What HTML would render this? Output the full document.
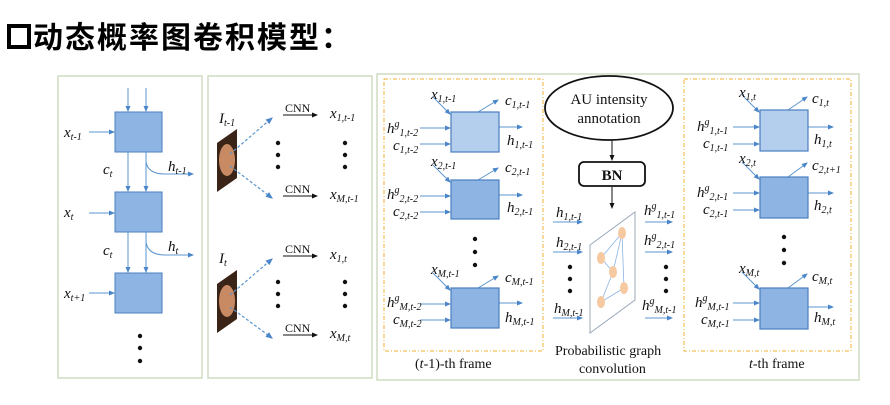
<!DOCTYPE html>
<html><head><meta charset="utf-8"><style>
body{margin:0;background:#fff;width:890px;height:400px;overflow:hidden}
svg text{font-family:"Liberation Serif",serif;fill:#111}
.i{font-style:italic}
</style></head><body>
<svg width="890" height="400" viewBox="0 0 890 400" xmlns="http://www.w3.org/2000/svg">
<defs>
<marker id="a" markerWidth="6" markerHeight="6" refX="5" refY="3" orient="auto"><path d="M0,0.5 L6,3 L0,5.5Z" fill="#4a86c8"/></marker>
<marker id="k" markerWidth="6" markerHeight="6" refX="5" refY="3" orient="auto"><path d="M0,0.5 L6,3 L0,5.5Z" fill="#111"/></marker>
</defs>
<rect x="9" y="26" width="20" height="21" fill="none" stroke="#000" stroke-width="4"/>
<text x="33" y="48" style="font-family:'Noto Sans CJK SC','WenQuanYi Zen Hei',sans-serif;font-weight:bold;font-size:30px;letter-spacing:2px;fill:#000">动态概率图卷积模型：</text>

<!-- panels -->
<rect x="58" y="76" width="144" height="302" fill="none" stroke="#cfdcc0" stroke-width="1.5"/>
<rect x="208" y="76" width="164" height="302" fill="none" stroke="#cfdcc0" stroke-width="1.5"/>
<rect x="377" y="74" width="482" height="306" fill="none" stroke="#cfdcc0" stroke-width="1.5"/>
<rect x="384" y="79" width="159" height="272" fill="none" stroke="#f0b030" stroke-width="1" stroke-dasharray="4,2,1,2"/>
<rect x="684" y="79" width="167" height="272" fill="none" stroke="#f0b030" stroke-width="1" stroke-dasharray="4,2,1,2"/>

<!-- panel1 -->
<g stroke="#5b95d0" stroke-width="1" fill="none">
<line x1="128" y1="88" x2="128" y2="111" marker-end="url(#a)"/>
<line x1="146" y1="88" x2="146" y2="111" marker-end="url(#a)"/>
<line x1="128" y1="152" x2="128" y2="191" marker-end="url(#a)"/>
<line x1="146" y1="152" x2="146" y2="191" marker-end="url(#a)"/>
<line x1="128" y1="232" x2="128" y2="272" marker-end="url(#a)"/>
<line x1="146" y1="232" x2="146" y2="272" marker-end="url(#a)"/>
<line x1="89" y1="132" x2="114" y2="132" marker-end="url(#a)"/>
<line x1="89" y1="213" x2="114" y2="213" marker-end="url(#a)"/>
<line x1="89" y1="293" x2="114" y2="293" marker-end="url(#a)"/>
<path d="M146,162 Q148,174 165,174 L193,174" marker-end="url(#a)"/>
<path d="M146,242 Q148,255 165,255 L193,255" marker-end="url(#a)"/>
</g>
<g fill="#8db4e2" stroke="#4a7fc0">
<rect x="115" y="112" width="47" height="40"/>
<rect x="115" y="192" width="47" height="40"/>
<rect x="115" y="273" width="47" height="40"/>
</g>
<g font-size="15" class="i">
<text x="64" y="137" class="i">x<tspan font-size="10" dy="3">t-1</tspan></text>
<text x="64" y="217" class="i">x<tspan font-size="10" dy="3">t</tspan></text>
<text x="64" y="298" class="i">x<tspan font-size="10" dy="3">t+1</tspan></text>
<text x="103" y="174" class="i">c<tspan font-size="10" dy="3">t</tspan></text>
<text x="103" y="255" class="i">c<tspan font-size="10" dy="3">t</tspan></text>
<text x="168" y="171" class="i">h<tspan font-size="10" dy="3">t-1</tspan></text>
<text x="168" y="251" class="i">h<tspan font-size="10" dy="3">t</tspan></text>
</g>
<g fill="#111"><circle cx="140" cy="336" r="2.2"/><circle cx="140" cy="348" r="2.2"/><circle cx="140" cy="361" r="2.2"/></g>

<!-- panel2 -->
<polygon points="217,143 237,129 237,178 217,192" fill="#3a2418"/>
<ellipse cx="227" cy="160" rx="8" ry="16" fill="#c88a62"/>
<polygon points="217,284 237,270 237,319 217,333" fill="#3a2418"/>
<ellipse cx="227" cy="301" rx="8" ry="16" fill="#c88a62"/>
<g stroke="#5b95d0" stroke-width="1.2" stroke-dasharray="3,2" fill="none">
<line x1="230" y1="154" x2="272" y2="118" marker-end="url(#a)"/>
<line x1="230" y1="166" x2="272" y2="198" marker-end="url(#a)"/>
<line x1="230" y1="295" x2="272" y2="259" marker-end="url(#a)"/>
<line x1="230" y1="307" x2="272" y2="338" marker-end="url(#a)"/>
</g>
<g stroke="#111" stroke-width="1">
<line x1="283" y1="115" x2="317" y2="115" marker-end="url(#k)"/>
<line x1="283" y1="196" x2="317" y2="196" marker-end="url(#k)"/>
<line x1="283" y1="256" x2="317" y2="256" marker-end="url(#k)"/>
<line x1="283" y1="335" x2="317" y2="335" marker-end="url(#k)"/>
</g>
<g font-size="12"><text x="285" y="112">CNN</text><text x="285" y="193">CNN</text><text x="285" y="253">CNN</text><text x="285" y="332">CNN</text></g>
<g font-size="15">
<text x="219" y="123" class="i">I<tspan font-size="10" dy="3">t-1</tspan></text>
<text x="219" y="263" class="i">I<tspan font-size="10" dy="3">t</tspan></text>
<text x="330" y="118" class="i">x<tspan font-size="10" dy="3">1,t-1</tspan></text>
<text x="330" y="199" class="i">x<tspan font-size="10" dy="3">M,t-1</tspan></text>
<text x="330" y="259" class="i">x<tspan font-size="10" dy="3">1,t</tspan></text>
<text x="330" y="338" class="i">x<tspan font-size="10" dy="3">M,t</tspan></text>
</g>
<g fill="#111">
<circle cx="278" cy="143" r="2.2"/><circle cx="278" cy="155" r="2.2"/><circle cx="278" cy="167" r="2.2"/>
<circle cx="345" cy="143" r="2.2"/><circle cx="345" cy="155" r="2.2"/><circle cx="345" cy="167" r="2.2"/>
<circle cx="278" cy="282" r="2.2"/><circle cx="278" cy="294" r="2.2"/><circle cx="278" cy="306" r="2.2"/>
<circle cx="345" cy="282" r="2.2"/><circle cx="345" cy="294" r="2.2"/><circle cx="345" cy="306" r="2.2"/>
</g>

<!-- cells -->
<g stroke="#5b95d0" stroke-width="1" fill="none">
<line x1="433" y1="97" x2="450" y2="114" marker-end="url(#a)"/><line x1="420" y1="128" x2="450" y2="128" marker-end="url(#a)"/><line x1="420" y1="144" x2="450" y2="144" marker-end="url(#a)"/><line x1="478" y1="112" x2="498" y2="100" marker-end="url(#a)"/><line x1="499" y1="127" x2="522" y2="127" marker-end="url(#a)"/>
<line x1="433" y1="165" x2="450" y2="182" marker-end="url(#a)"/><line x1="420" y1="196" x2="450" y2="196" marker-end="url(#a)"/><line x1="420" y1="212" x2="450" y2="212" marker-end="url(#a)"/><line x1="478" y1="180" x2="498" y2="168" marker-end="url(#a)"/><line x1="499" y1="195" x2="522" y2="195" marker-end="url(#a)"/>
<line x1="433" y1="273" x2="450" y2="290" marker-end="url(#a)"/><line x1="420" y1="304" x2="450" y2="304" marker-end="url(#a)"/><line x1="420" y1="320" x2="450" y2="320" marker-end="url(#a)"/><line x1="478" y1="288" x2="498" y2="276" marker-end="url(#a)"/><line x1="499" y1="303" x2="522" y2="303" marker-end="url(#a)"/>
<line x1="742" y1="95" x2="759" y2="112" marker-end="url(#a)"/><line x1="733" y1="127" x2="759" y2="127" marker-end="url(#a)"/><line x1="733" y1="144" x2="759" y2="144" marker-end="url(#a)"/><line x1="788" y1="110" x2="807" y2="97" marker-end="url(#a)"/><line x1="808" y1="127" x2="833" y2="127" marker-end="url(#a)"/>
<line x1="742" y1="162" x2="759" y2="179" marker-end="url(#a)"/><line x1="733" y1="193" x2="759" y2="193" marker-end="url(#a)"/><line x1="733" y1="210" x2="759" y2="210" marker-end="url(#a)"/><line x1="788" y1="177" x2="807" y2="163" marker-end="url(#a)"/><line x1="808" y1="193" x2="833" y2="193" marker-end="url(#a)"/>
<line x1="742" y1="272" x2="759" y2="289" marker-end="url(#a)"/><line x1="733" y1="303" x2="759" y2="303" marker-end="url(#a)"/><line x1="733" y1="320" x2="759" y2="320" marker-end="url(#a)"/><line x1="788" y1="288" x2="807" y2="274" marker-end="url(#a)"/><line x1="808" y1="307" x2="833" y2="307" marker-end="url(#a)"/>
<line x1="553" y1="222" x2="582" y2="222" marker-end="url(#a)"/><line x1="553" y1="252" x2="582" y2="252" marker-end="url(#a)"/><line x1="553" y1="318" x2="582" y2="318" marker-end="url(#a)"/>
<line x1="645" y1="222" x2="672" y2="222" marker-end="url(#a)"/><line x1="645" y1="252" x2="672" y2="252" marker-end="url(#a)"/><line x1="645" y1="318" x2="672" y2="318" marker-end="url(#a)"/>
</g>
<g stroke="#4a7fc0" stroke-width="1.2">
<rect x="451" y="112" width="48" height="40" fill="#b4cfee"/>
<rect x="451" y="180" width="48" height="39" fill="#8db4e2"/>
<rect x="451" y="288" width="48" height="40" fill="#8db4e2"/>
<rect x="760" y="110" width="48" height="41" fill="#b4cfee"/>
<rect x="760" y="177" width="48" height="41" fill="#8db4e2"/>
<rect x="760" y="288" width="48" height="41" fill="#8db4e2"/>
</g>
<g font-size="15" class="i">
<text x="431" y="99" class="i">x<tspan font-size="10" dy="3">1,t-1</tspan></text>
<text x="387" y="133" class="i">h<tspan font-size="10" dy="-6">g</tspan><tspan font-size="10" dy="9">1,t-2</tspan></text>
<text x="393" y="150" class="i">c<tspan font-size="10" dy="3">1,t-2</tspan></text>
<text x="505" y="105" class="i">c<tspan font-size="10" dy="3">1,t-1</tspan></text>
<text x="507" y="145" class="i">h<tspan font-size="10" dy="3">1,t-1</tspan></text>
<text x="431" y="166" class="i">x<tspan font-size="10" dy="3">2,t-1</tspan></text>
<text x="387" y="199" class="i">h<tspan font-size="10" dy="-6">g</tspan><tspan font-size="10" dy="9">2,t-2</tspan></text>
<text x="393" y="216" class="i">c<tspan font-size="10" dy="3">2,t-2</tspan></text>
<text x="505" y="172" class="i">c<tspan font-size="10" dy="3">2,t-1</tspan></text>
<text x="507" y="212" class="i">h<tspan font-size="10" dy="3">2,t-1</tspan></text>
<text x="431" y="274" class="i">x<tspan font-size="10" dy="3">M,t-1</tspan></text>
<text x="387" y="307" class="i">h<tspan font-size="10" dy="-6">g</tspan><tspan font-size="10" dy="9">M,t-2</tspan></text>
<text x="393" y="324" class="i">c<tspan font-size="10" dy="3">M,t-2</tspan></text>
<text x="505" y="282" class="i">c<tspan font-size="10" dy="3">M,t-1</tspan></text>
<text x="505" y="322" class="i">h<tspan font-size="10" dy="3">M,t-1</tspan></text>

<text x="739" y="97" class="i">x<tspan font-size="10" dy="3">1,t</tspan></text>
<text x="697" y="131" class="i">h<tspan font-size="10" dy="-6">g</tspan><tspan font-size="10" dy="9">1,t-1</tspan></text>
<text x="703" y="148" class="i">c<tspan font-size="10" dy="3">1,t-1</tspan></text>
<text x="812" y="103" class="i">c<tspan font-size="10" dy="3">1,t</tspan></text>
<text x="814" y="144" class="i">h<tspan font-size="10" dy="3">1,t</tspan></text>
<text x="739" y="163" class="i">x<tspan font-size="10" dy="3">2,t</tspan></text>
<text x="697" y="197" class="i">h<tspan font-size="10" dy="-6">g</tspan><tspan font-size="10" dy="9">2,t-1</tspan></text>
<text x="703" y="214" class="i">c<tspan font-size="10" dy="3">2,t-1</tspan></text>
<text x="812" y="170" class="i">c<tspan font-size="10" dy="3">2,t+1</tspan></text>
<text x="814" y="210" class="i">h<tspan font-size="10" dy="3">2,t</tspan></text>
<text x="739" y="273" class="i">x<tspan font-size="10" dy="3">M,t</tspan></text>
<text x="695" y="307" class="i">h<tspan font-size="10" dy="-6">g</tspan><tspan font-size="10" dy="9">M,t-1</tspan></text>
<text x="701" y="324" class="i">c<tspan font-size="10" dy="3">M,t-1</tspan></text>
<text x="812" y="281" class="i">c<tspan font-size="10" dy="3">M,t</tspan></text>
<text x="814" y="322" class="i">h<tspan font-size="10" dy="3">M,t</tspan></text>

<text x="556" y="217" class="i">h<tspan font-size="10" dy="3">1,t-1</tspan></text>
<text x="556" y="247" class="i">h<tspan font-size="10" dy="3">2,t-1</tspan></text>
<text x="554" y="313" class="i">h<tspan font-size="10" dy="3">M,t-1</tspan></text>
<text x="644" y="215" class="i">h<tspan font-size="10" dy="-6">g</tspan><tspan font-size="10" dy="9">1,t-1</tspan></text>
<text x="644" y="245" class="i">h<tspan font-size="10" dy="-6">g</tspan><tspan font-size="10" dy="9">2,t-1</tspan></text>
<text x="642" y="310" class="i">h<tspan font-size="10" dy="-6">g</tspan><tspan font-size="10" dy="9">M,t-1</tspan></text>
</g>
<g fill="#111">
<circle cx="475" cy="239" r="2.2"/><circle cx="475" cy="252" r="2.2"/><circle cx="475" cy="265" r="2.2"/>
<circle cx="784" cy="237" r="2.2"/><circle cx="784" cy="250" r="2.2"/><circle cx="784" cy="263" r="2.2"/>
<circle cx="570" cy="267" r="2.2"/><circle cx="570" cy="279" r="2.2"/><circle cx="570" cy="291" r="2.2"/>
<circle cx="666" cy="267" r="2.2"/><circle cx="666" cy="279" r="2.2"/><circle cx="666" cy="291" r="2.2"/>
</g>

<ellipse cx="609" cy="108" rx="64" ry="32" fill="none" stroke="#111" stroke-width="1.8"/>
<text x="609" y="104" font-size="15" text-anchor="middle">AU intensity</text>
<text x="609" y="123" font-size="15" text-anchor="middle">annotation</text>
<line x1="612" y1="140" x2="612" y2="160" stroke="#111" marker-end="url(#k)"/>
<rect x="579" y="162" width="66" height="24" rx="5" fill="none" stroke="#111" stroke-width="1.8"/>
<text x="612" y="180" font-size="15" font-weight="bold" text-anchor="middle">BN</text>
<line x1="612" y1="187" x2="612" y2="208" stroke="#111" marker-end="url(#k)"/>
<polygon points="590,245 635,212 635,300 590,333" fill="none" stroke="#9aa8b8" stroke-width="1"/>
<g stroke="#8db4e2" stroke-width="0.8"><line x1="622" y1="233" x2="601" y2="258"/><line x1="622" y1="233" x2="613" y2="272"/><line x1="622" y1="233" x2="624" y2="288"/><line x1="601" y1="258" x2="613" y2="272"/><line x1="613" y1="272" x2="601" y2="302"/><line x1="624" y1="288" x2="601" y2="302"/></g>
<g fill="#f6c9a0"><ellipse cx="622" cy="233" rx="4" ry="6"/><ellipse cx="601" cy="258" rx="4" ry="6"/><ellipse cx="613" cy="272" rx="4" ry="6"/><ellipse cx="624" cy="288" rx="4" ry="6"/><ellipse cx="601" cy="302" rx="4" ry="6"/></g>
<text x="555" y="355" font-size="14">Probabilistic graph</text>
<text x="579" y="373" font-size="14">convolution</text>
<text x="415" y="368" font-size="14">(<tspan class="i">t</tspan>-1)-th frame</text>
<text x="749" y="368" font-size="14"><tspan class="i">t</tspan>-th frame</text>
</svg>
</body></html>
